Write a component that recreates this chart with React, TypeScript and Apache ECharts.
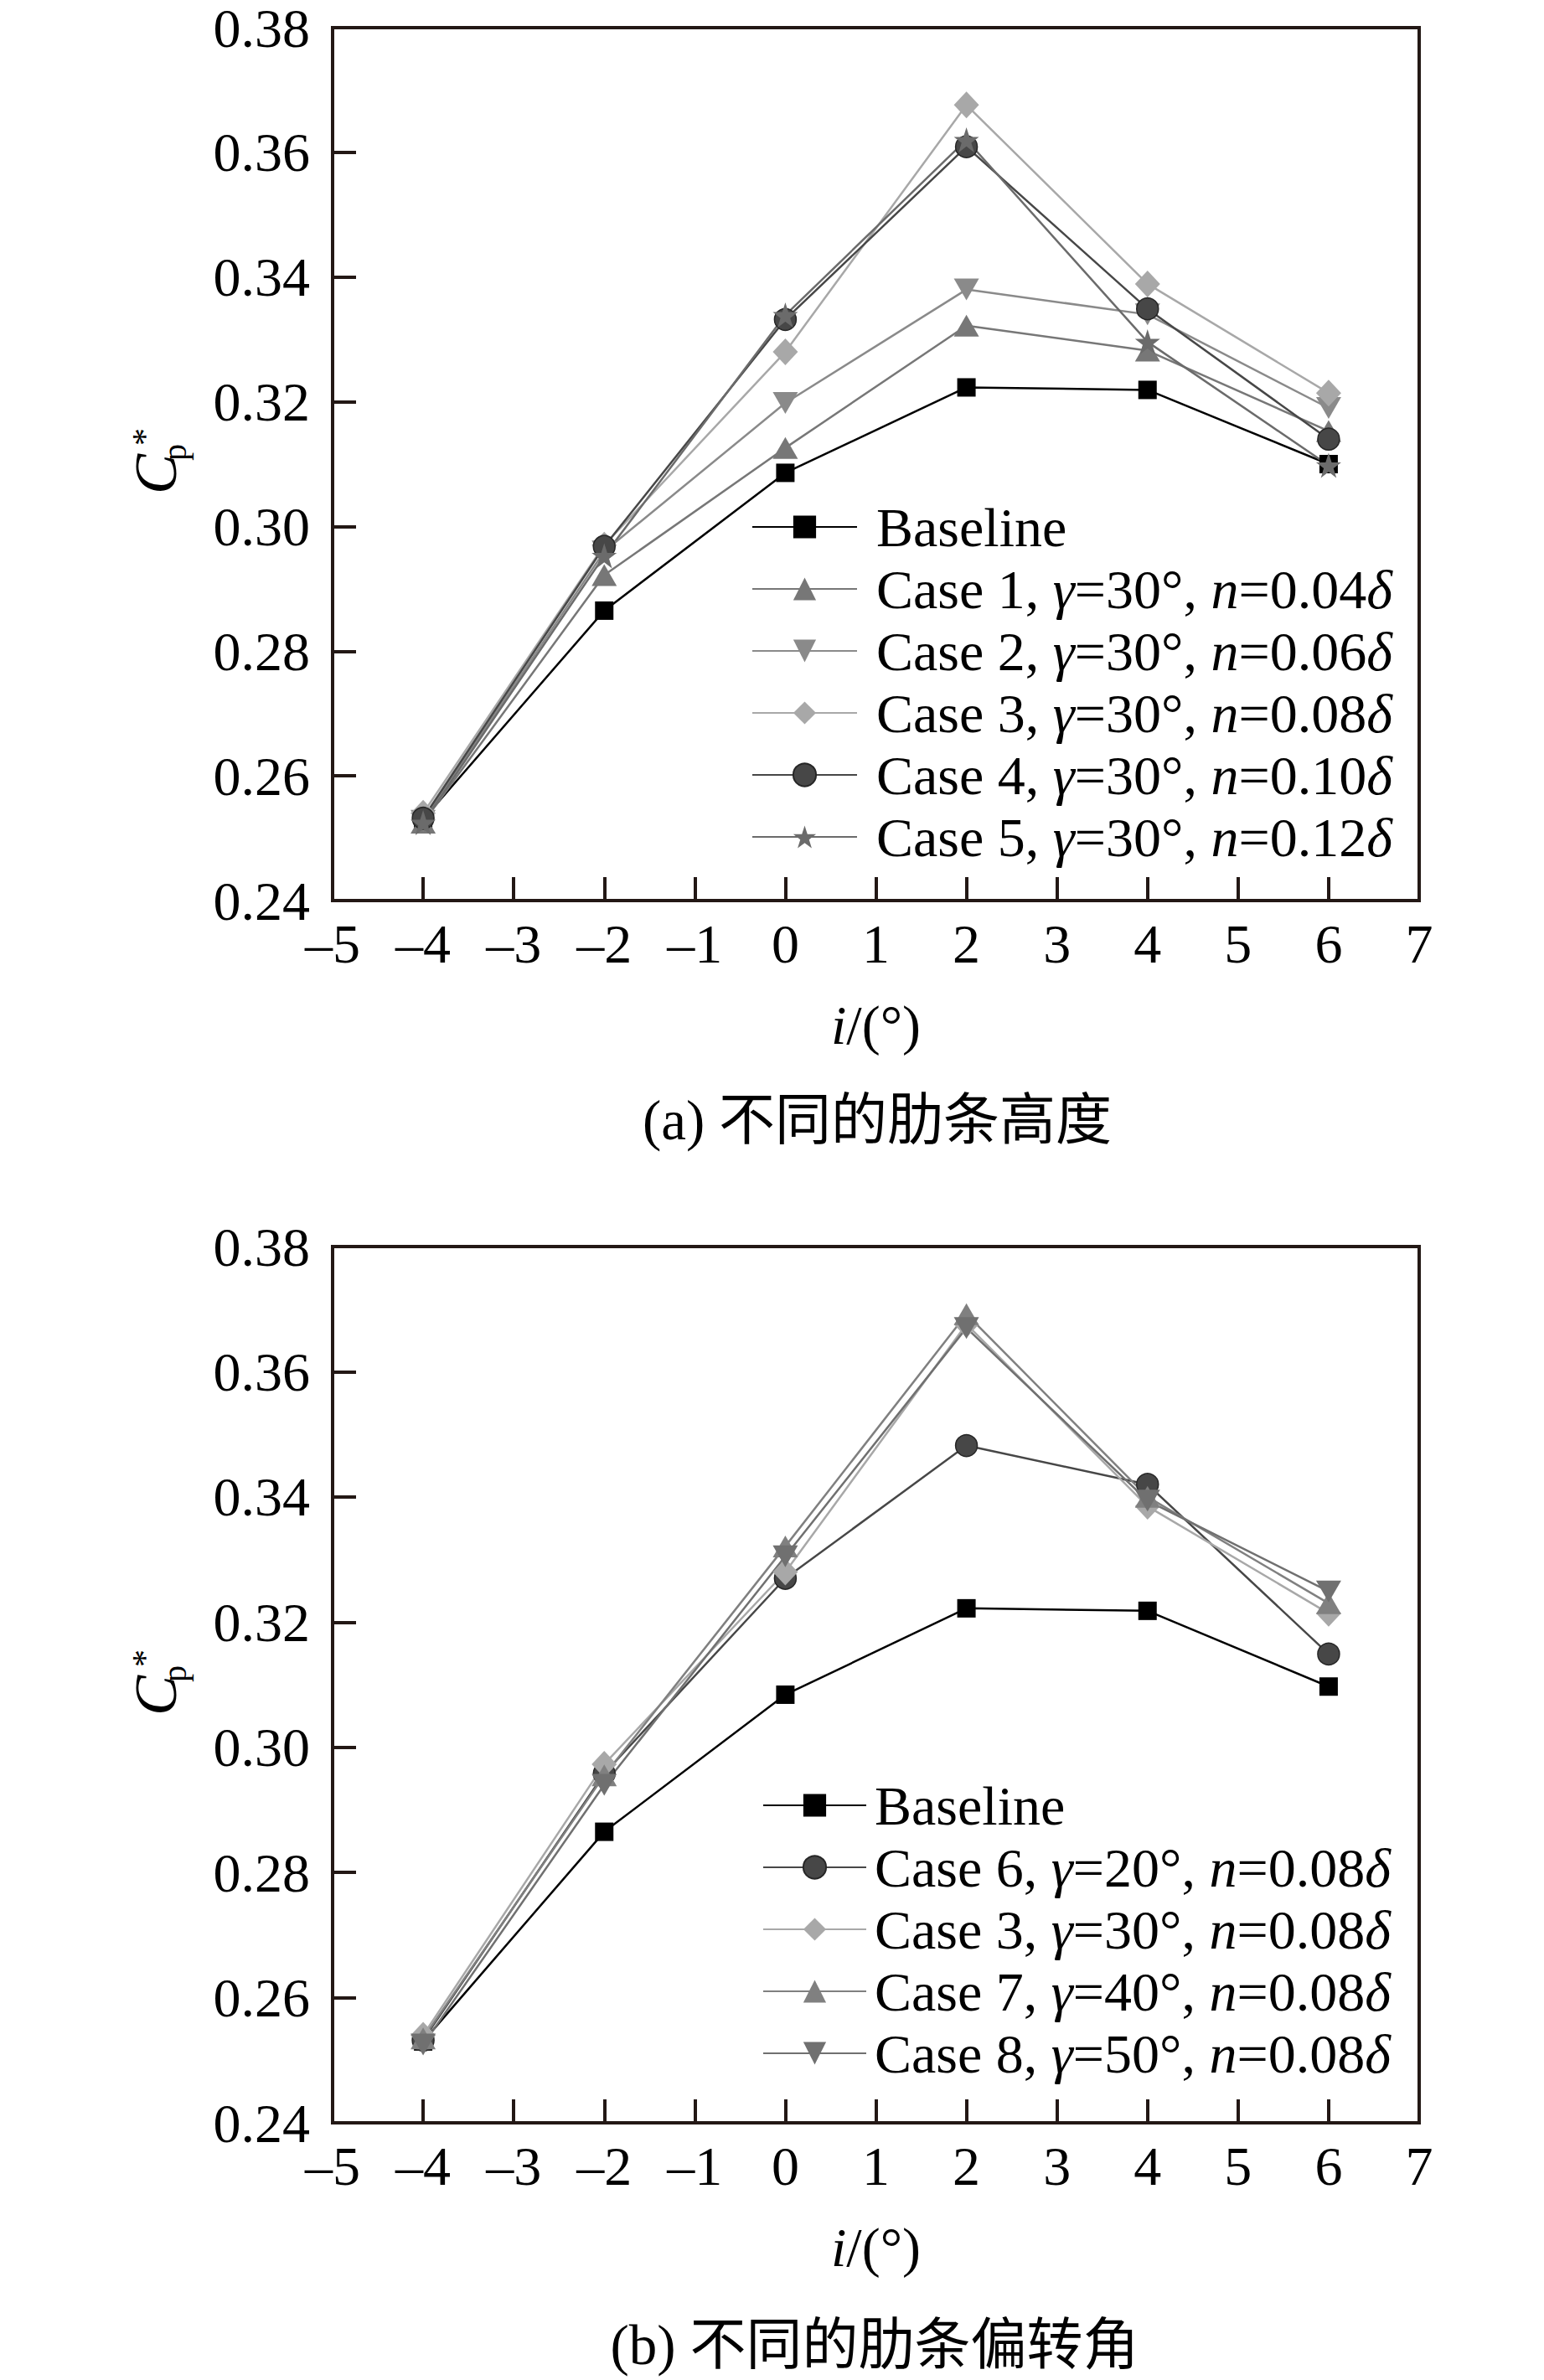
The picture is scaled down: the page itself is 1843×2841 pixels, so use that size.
import React, { useEffect, useRef } from "react";
import * as echarts from "echarts";

const xValues = [-4, -2, 0, 2, 4, 6];

// (a) different rib heights
const baselineA = [0.253, 0.2865, 0.3086, 0.3223, 0.3219, 0.31];
const case1 = [0.2525, 0.2922, 0.3126, 0.3322, 0.3282, 0.3153];
const case2 = [0.2528, 0.296, 0.3198, 0.338, 0.334, 0.319];
const case3A = [0.254, 0.297, 0.328, 0.3676, 0.3389, 0.3214];
const case4 = [0.2532, 0.2968, 0.3332, 0.3609, 0.3349, 0.314];
const case5 = [0.2525, 0.2953, 0.3339, 0.362, 0.3296, 0.3098];

// (b) different rib deflection angles
const baselineB = [0.253, 0.2865, 0.3084, 0.3222, 0.3218, 0.3097];
const case6 = [0.2532, 0.2958, 0.327, 0.3482, 0.342, 0.3149];
const case3B = [0.254, 0.2973, 0.328, 0.3676, 0.3385, 0.3214];
const case7 = [0.2535, 0.2955, 0.3321, 0.3692, 0.34, 0.323];
const case8 = [0.2525, 0.294, 0.3305, 0.367, 0.3394, 0.3249];

const namesA = [
  "Baseline",
  "Case 1, γ=30°, n=0.04δ",
  "Case 2, γ=30°, n=0.06δ",
  "Case 3, γ=30°, n=0.08δ",
  "Case 4, γ=30°, n=0.10δ",
  "Case 5, γ=30°, n=0.12δ",
];
const namesB = [
  "Baseline",
  "Case 6, γ=20°, n=0.08δ",
  "Case 3, γ=30°, n=0.08δ",
  "Case 7, γ=40°, n=0.08δ",
  "Case 8, γ=50°, n=0.08δ",
];

const captionA = "(a) 不同的肋条高度";
const captionB = "(b) 不同的肋条偏转角";

const SERIF = '"Liberation Serif", "Times New Roman", serif';
const CAPFONT = '"Liberation Serif", "Noto Sans CJK SC", serif';
const AXIS = "#231815";
const FS = 66;

const DOWN_TRI = "path://M0,0 L10,0 L5,8.7 Z";
const STAR =
  "path://M50,0 L61.8,35.1 L98.9,35.1 L68.9,56.7 L80.3,91.8 L50,70 L19.7,91.8 L31.1,56.7 L1.1,35.1 L38.2,35.1 Z";

function pairs(vals: number[]) {
  return xValues.map((x, i) => [x, vals[i]]);
}

function mk(
  name: string,
  vals: number[],
  color: string,
  symbol: string,
  size: number | number[],
  idx: number,
  border?: string
) {
  return {
    type: "line",
    name,
    xAxisIndex: idx,
    yAxisIndex: idx,
    data: pairs(vals),
    symbol,
    symbolSize: size,
    showAllSymbol: true,
    lineStyle: { color, width: 2.5 },
    itemStyle: {
      color,
      borderColor: border || color,
      borderWidth: border ? 1.5 : 0,
    },
    emphasis: { disabled: true },
    z: 3,
  };
}

function richName(name: string) {
  return name
    .replace("γ", "{i|γ}")
    .replace("n=", "{i|n}=")
    .replace("δ", "{i|δ}");
}

function xAxisCfg(idx: number) {
  return {
    type: "value",
    gridIndex: idx,
    min: -5,
    max: 7,
    interval: 1,
    name: "{i|i}/(°)",
    nameLocation: "middle",
    nameGap: 115,
    nameTextStyle: {
      fontSize: FS,
      fontFamily: SERIF,
      color: "#000",
      rich: { i: { fontStyle: "italic", fontSize: FS, fontFamily: SERIF, color: "#000" } },
    },
    axisLine: { onZero: false, lineStyle: { color: AXIS, width: 4 } },
    axisTick: { inside: true, length: 28, lineStyle: { color: AXIS, width: 4 } },
    axisLabel: {
      margin: 18,
      fontSize: FS,
      fontFamily: SERIF,
      color: "#000",
      formatter: (v: number) => (v < 0 ? "–" + Math.abs(v) : String(v)),
    },
    splitLine: { show: false },
  };
}

function yAxisCfg(idx: number) {
  return {
    type: "value",
    gridIndex: idx,
    min: 0.24,
    max: 0.38,
    interval: 0.02,
    axisLine: { onZero: false, lineStyle: { color: AXIS, width: 4 } },
    axisTick: { inside: true, length: 28, lineStyle: { color: AXIS, width: 4 } },
    axisLabel: {
      margin: 27,
      fontSize: FS,
      lineHeight: 50,
      fontFamily: SERIF,
      color: "#000",
      formatter: (v: number) => v.toFixed(2),
    },
    splitLine: { show: false },
  };
}

function legendCfg(names: string[], left: number, top: number, itemWidth: number, pad: number) {
  return {
    data: names,
    orient: "vertical",
    left,
    top,
    itemWidth,
    itemHeight: 34,
    itemGap: 8,
    selectedMode: false,
    formatter: (n: string) => richName(n),
    textStyle: {
      fontSize: FS,
      fontFamily: SERIF,
      color: "#000",
      lineHeight: 66,
      padding: [0, 0, 0, pad],
      rich: {
        i: { fontStyle: "italic", fontSize: FS, fontFamily: SERIF, color: "#000", lineHeight: 66 },
      },
    },
  };
}

function yName(x: number, y: number) {
  return {
    type: "group",
    x,
    y,
    rotation: Math.PI / 2,
    children: [
      {
        type: "text",
        x: 0,
        y: -24,
        style: { text: "C", fontSize: 72, fontFamily: SERIF, fontStyle: "italic", fill: "#000", align: "left", verticalAlign: "middle" },
      },
      {
        type: "text",
        x: 40,
        y: -2,
        style: { text: "p", fontSize: 40, fontFamily: SERIF, fill: "#000", align: "left", verticalAlign: "middle" },
      },
      {
        type: "text",
        x: 58,
        y: -37,
        style: { text: "*", fontSize: 42, fontFamily: SERIF, fill: "#000", align: "left", verticalAlign: "middle" },
      },
    ],
  };
}

function caption(text: string, x: number, y: number) {
  return {
    type: "text",
    x,
    y,
    style: { text, fontSize: 67, fontFamily: CAPFONT, fill: "#000", align: "center", verticalAlign: "middle" },
  };
}

export default function App() {
  const ref = useRef<HTMLDivElement>(null);
  useEffect(() => {
    if (!ref.current) return;
    const chart = echarts.init(ref.current, undefined, { renderer: "svg" });
    const option = {
      animation: false,
      backgroundColor: "#fff",
      grid: [
        { left: 397, top: 31, width: 1297, height: 1044, show: true, borderColor: AXIS, borderWidth: 4, backgroundColor: "transparent" },
        { left: 397, top: 1488, width: 1297, height: 1046, show: true, borderColor: AXIS, borderWidth: 4, backgroundColor: "transparent" },
      ],
      xAxis: [xAxisCfg(0), xAxisCfg(1)],
      yAxis: [yAxisCfg(0), yAxisCfg(1)],
      legend: [legendCfg(namesA, 892, 591, 125, 18), legendCfg(namesB, 905, 2117, 123, 5)],
      series: [
        mk(namesA[0], baselineA, "#000000", "rect", 22, 0),
        mk(namesA[1], case1, "#777777", "triangle", [30, 26], 0),
        mk(namesA[2], case2, "#8a8a8a", DOWN_TRI, [30, 26], 0),
        mk(namesA[3], case3A, "#a8a8a8", "diamond", [30, 32], 0),
        mk(namesA[4], case4, "#474747", "circle", 26, 0, "#262626"),
        mk(namesA[5], case5, "#6b6b6b", STAR, 30, 0),
        mk(namesB[0], baselineB, "#000000", "rect", 22, 1),
        mk(namesB[1], case6, "#474747", "circle", 26, 1, "#262626"),
        mk(namesB[2], case3B, "#a8a8a8", "diamond", [30, 32], 1),
        mk(namesB[3], case7, "#808080", "triangle", [30, 26], 1),
        mk(namesB[4], case8, "#707070", DOWN_TRI, [30, 26], 1),
      ],
      graphic: [
        yName(210, 590),
        yName(210, 2048),
        caption(captionA, 1047, 1337),
        caption(captionB, 1044, 2799),
      ],
    };
    chart.setOption(option as any);
    return () => chart.dispose();
  }, []);
  return (
    <div
      ref={ref}
      style={{ position: "absolute", left: 0, top: 0, width: 1843, height: 2841 }}
    />
  );
}
